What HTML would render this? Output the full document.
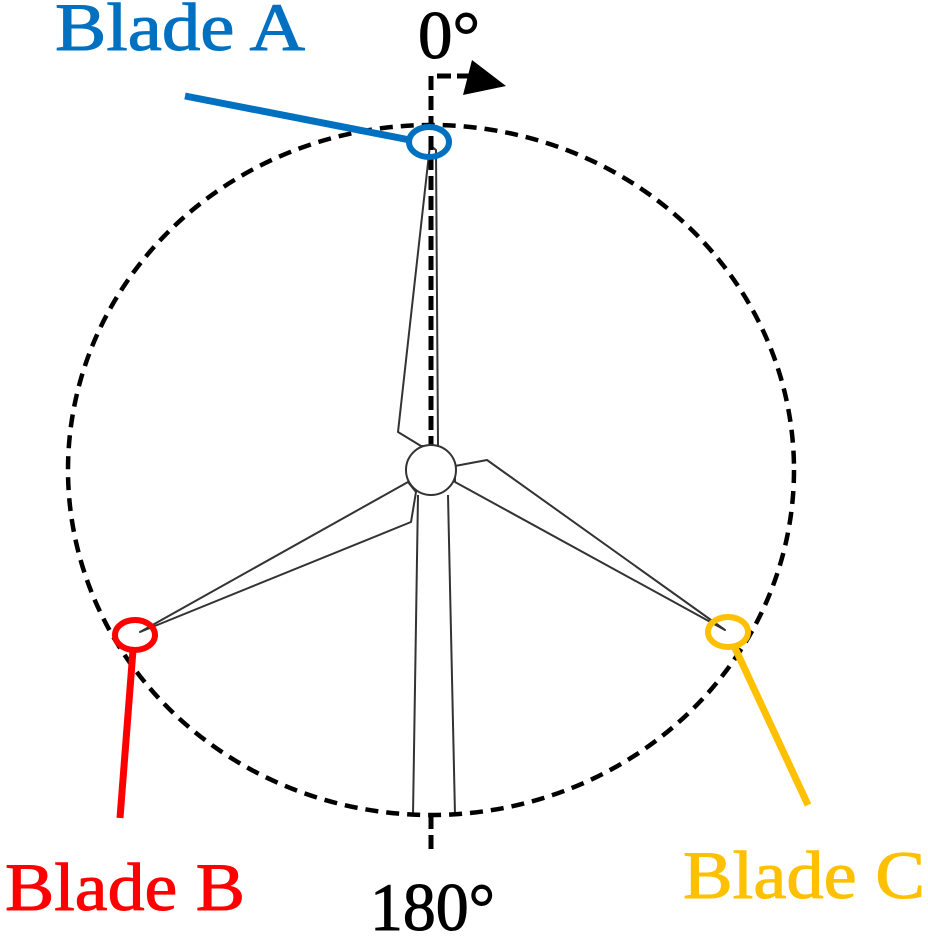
<!DOCTYPE html>
<html><head><meta charset="utf-8"><style>html,body{margin:0;padding:0;background:#fff}</style></head>
<body>
<svg width="928" height="937" viewBox="0 0 928 937" xmlns="http://www.w3.org/2000/svg" font-family="Liberation Serif, serif">
<rect width="928" height="937" fill="#fff"/>
<g fill="#fff" stroke="#333" stroke-width="2" stroke-linejoin="round">
<polygon points="421,446 398,432 430,145 436,150 438,446"/>
<polygon points="408,482 140,632 411,522 416,492"/>
<polygon points="455,482 725,630 487,460 455,466"/>
<path d="M418,495 Q416,650 413,815 M448,495 Q452,650 455,815"/>
</g>
<ellipse cx="431" cy="470" rx="363" ry="345" fill="none" stroke="#000" stroke-width="4.5" stroke-dasharray="13,8"/>
<path d="M431,450 V76 H470" fill="none" stroke="#000" stroke-width="5" stroke-dasharray="14,6"/>
<path d="M431,815 V852" fill="none" stroke="#000" stroke-width="5" stroke-dasharray="14,6"/>
<polygon points="472,60 506,86 463,95" fill="#000"/>
<circle cx="431" cy="470" r="25" fill="#fff" stroke="#333" stroke-width="2"/>
<line x1="185" y1="96" x2="410" y2="140" stroke="#0070c0" stroke-width="7"/>
<ellipse cx="429" cy="142" rx="20" ry="15" fill="none" stroke="#0070c0" stroke-width="6"/>
<line x1="133" y1="650" x2="120" y2="818" stroke="#ff0000" stroke-width="7"/>
<ellipse cx="135" cy="635" rx="20" ry="15" fill="none" stroke="#ff0000" stroke-width="6"/>
<line x1="735" y1="648" x2="808" y2="805" stroke="#ffc000" stroke-width="7"/>
<ellipse cx="728" cy="632" rx="20" ry="15" fill="none" stroke="#ffc000" stroke-width="6"/>
<g font-size="68" stroke-width="1">
<text x="55" y="50" fill="#0070c0" stroke="#0070c0" textLength="250" lengthAdjust="spacingAndGlyphs">Blade A</text>
<text x="5" y="910" fill="#ff0000" stroke="#ff0000" textLength="240" lengthAdjust="spacingAndGlyphs">Blade B</text>
<text x="683" y="898" fill="#ffc000" stroke="#ffc000" textLength="242" lengthAdjust="spacingAndGlyphs">Blade C</text>
<text x="418" y="58" fill="#000" stroke="#000" textLength="62" lengthAdjust="spacingAndGlyphs">0°</text>
<text x="370" y="930" fill="#000" stroke="#000" textLength="125" lengthAdjust="spacingAndGlyphs">180°</text>
</g>
</svg>
</body></html>
